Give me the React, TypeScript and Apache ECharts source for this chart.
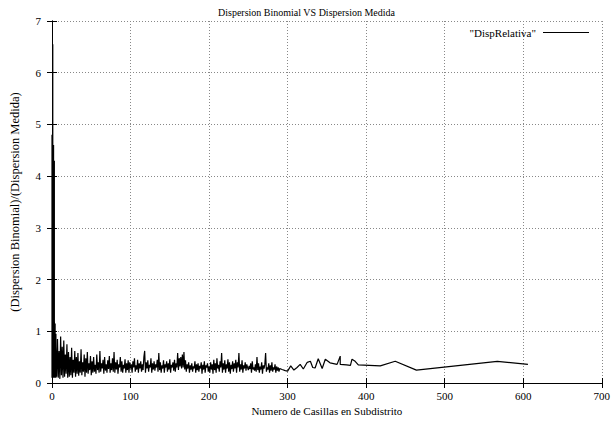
import React, { useEffect, useRef } from "react";
import * as echarts from "echarts";

const TITLE = "Dispersion Binomial VS Dispersion Medida";
const X_NAME = "Numero de Casillas en Subdistrito";
const Y_NAME = "(Dispersion Binomial)/(Dispersion Medida)";
const SERIES_NAME = '"DispRelativa"';

// first few subdistrict sizes (several subdistricts share the same size)
const earlyX = [0, 0, 0, 0, 1, 1, 1, 1, 1, 1, 1, 1, 2, 2, 2, 2, 2, 2, 3, 3, 3, 3, 3, 3, 4, 4, 4, 4, 5, 5, 5, 5];
const earlyY = [0.3, 4.8, 0.1, 4.5, 0.2, 6.55, 0.1, 4.7, 0.15, 4.4, 0.1, 4.0, 0.15, 4.6, 0.1, 3.6, 0.2, 2.8, 0.1, 4.3, 0.15, 2.2, 0.1, 1.2, 0.1, 1.15, 0.2, 0.8, 0.1, 0.95, 0.2, 0.7];

// sizes 6 .. 290, one value per size
const midStart = 6;
const midY = [
  0.12, 0.85, 0.1, 0.62, 0.08, 0.9, 0.15, 0.7, 0.1, 0.82, 0.12, 0.55, 0.18, 0.75, 0.1,
  0.6, 0.12, 0.5, 0.15, 0.68, 0.1, 0.45, 0.2, 0.62, 0.12, 0.5, 0.18, 0.58, 0.14, 0.42,
  0.2, 0.65, 0.15, 0.4, 0.22, 0.55, 0.12, 0.48, 0.2, 0.6, 0.18, 0.38, 0.25, 0.52, 0.15,
  0.42, 0.2, 0.5, 0.22, 0.35, 0.18, 0.55, 0.25, 0.4, 0.2, 0.62, 0.22, 0.38, 0.28, 0.45,
  0.18, 0.5, 0.24, 0.36, 0.2, 0.44, 0.27, 0.52, 0.2, 0.38, 0.25, 0.48, 0.22, 0.6, 0.2,
  0.4, 0.26, 0.45, 0.18, 0.36, 0.3, 0.5, 0.22, 0.42, 0.2, 0.35, 0.28, 0.46, 0.2, 0.38,
  0.25, 0.44, 0.2, 0.4, 0.28, 0.36, 0.2, 0.42, 0.3, 0.48, 0.22, 0.34, 0.26, 0.45, 0.2,
  0.38, 0.28, 0.42, 0.22, 0.36, 0.25, 0.5, 0.62, 0.2, 0.4, 0.28, 0.44, 0.22, 0.35, 0.3,
  0.48, 0.2, 0.38, 0.26, 0.42, 0.24, 0.36, 0.3, 0.45, 0.22, 0.58, 0.25, 0.4, 0.2, 0.34,
  0.28, 0.44, 0.2, 0.36, 0.3, 0.42, 0.22, 0.38, 0.26, 0.46, 0.2, 0.35, 0.3, 0.4, 0.24,
  0.45, 0.22, 0.38, 0.3, 0.58, 0.25, 0.48, 0.32, 0.5, 0.28, 0.55, 0.3, 0.6, 0.26, 0.44,
  0.22, 0.36, 0.28, 0.4, 0.2, 0.34, 0.26, 0.38, 0.22, 0.32, 0.28, 0.42, 0.2, 0.36, 0.25,
  0.38, 0.22, 0.33, 0.28, 0.4, 0.18, 0.35, 0.26, 0.42, 0.2, 0.34, 0.3, 0.38, 0.22, 0.32,
  0.2, 0.4, 0.26, 0.36, 0.18, 0.45, 0.25, 0.38, 0.2, 0.48, 0.28, 0.35, 0.22, 0.42, 0.3,
  0.58, 0.2, 0.38, 0.26, 0.44, 0.2, 0.36, 0.28, 0.46, 0.22, 0.4, 0.18, 0.35, 0.27, 0.42,
  0.22, 0.38, 0.28, 0.45, 0.2, 0.4, 0.3, 0.58, 0.22, 0.36, 0.26, 0.44, 0.2, 0.34, 0.28,
  0.4, 0.24, 0.36, 0.3, 0.25, 0.33, 0.27, 0.38, 0.2, 0.42, 0.26, 0.3, 0.24, 0.36, 0.22,
  0.5, 0.25, 0.38, 0.2, 0.32, 0.26, 0.4, 0.18, 0.34, 0.28, 0.36, 0.58, 0.22, 0.3, 0.26,
  0.38, 0.2, 0.34, 0.24, 0.4, 0.22, 0.3, 0.26, 0.36, 0.2, 0.32, 0.24, 0.3, 0.22, 0.28,
];

// sparse large subdistricts
const tailX = [293, 297, 300, 304, 308, 312, 316, 320, 325, 329, 332, 335, 339, 344, 348, 354, 363, 367, 367, 375, 380, 382, 386, 390, 418, 437, 464, 567, 606];
const tailY = [0.26, 0.24, 0.23, 0.33, 0.25, 0.3, 0.36, 0.27, 0.4, 0.42, 0.3, 0.29, 0.47, 0.28, 0.46, 0.39, 0.36, 0.52, 0.36, 0.35, 0.34, 0.46, 0.42, 0.35, 0.33, 0.42, 0.25, 0.42, 0.36];

const FONT = "Liberation Serif";

export default function App() {
  const ref = useRef<HTMLDivElement>(null);
  useEffect(() => {
    if (!ref.current) return;
    const chart = echarts.init(ref.current, undefined, { renderer: "svg" });
    const data: number[][] = [];
    earlyX.forEach((x, i) => data.push([x, earlyY[i]]));
    midY.forEach((y, i) => data.push([midStart + i, y]));
    tailX.forEach((x, i) => data.push([x, tailY[i]]));

    const grid = { left: 50, right: 10, top: 21, bottom: 46 };
    const tick = { show: true, inside: true, length: 5, lineStyle: { color: "#000", width: 1 } };
    const axisLine = { show: true, lineStyle: { color: "#000", width: 1 } };
    const split = { show: true, lineStyle: { color: "#888", type: [1, 2] as any, width: 1 } };

    chart.setOption({
      animation: false,
      backgroundColor: "#fff",
      title: {
        text: TITLE,
        left: "center",
        top: 2,
        textStyle: { fontFamily: FONT, fontSize: 10, fontWeight: "normal", color: "#000" },
      },
      legend: {
        data: [SERIES_NAME],
        right: 19,
        top: 22,
        align: "right",
        itemWidth: 46,
        itemHeight: 1,
        icon: "rect",
        textStyle: { fontFamily: FONT, fontSize: 11, color: "#000", padding: [0, 2, 0, 0] },
        itemGap: 0,
      },
      grid,
      xAxis: [
        {
          type: "value",
          min: 0,
          max: 700,
          interval: 100,
          axisLine,
          axisTick: tick,
          splitLine: split,
          axisLabel: { fontFamily: FONT, fontSize: 11, color: "#000", margin: 7 },
          name: X_NAME,
          nameLocation: "middle",
          nameGap: 22,
          nameTextStyle: { fontFamily: FONT, fontSize: 11, color: "#000" },
        },
        {
          type: "value",
          position: "top",
          min: 0,
          max: 700,
          interval: 100,
          axisLine,
          axisTick: tick,
          splitLine: { show: false },
          axisLabel: { show: false },
        },
      ],
      yAxis: [
        {
          type: "value",
          min: 0,
          max: 7,
          interval: 1,
          axisLine,
          axisTick: tick,
          splitLine: split,
          axisLabel: { fontFamily: FONT, fontSize: 11, color: "#000", margin: 11 },
          name: Y_NAME,
          nameLocation: "middle",
          nameGap: 31,
          nameTextStyle: { fontFamily: FONT, fontSize: 12.5, color: "#000" },
        },
        {
          type: "value",
          position: "right",
          min: 0,
          max: 7,
          interval: 1,
          axisLine,
          axisTick: tick,
          splitLine: { show: false },
          axisLabel: { show: false },
        },
      ],
      series: [
        {
          name: SERIES_NAME,
          type: "line",
          data,
          showSymbol: false,
          symbol: "none",
          lineStyle: { color: "#000", width: 1.2 },
          itemStyle: { color: "#000" },
          clip: true,
        },
      ],
    });
    return () => chart.dispose();
  }, []);
  return <div ref={ref} style={{ width: 613, height: 429, position: "absolute", left: 0, top: 0 }} />;
}
